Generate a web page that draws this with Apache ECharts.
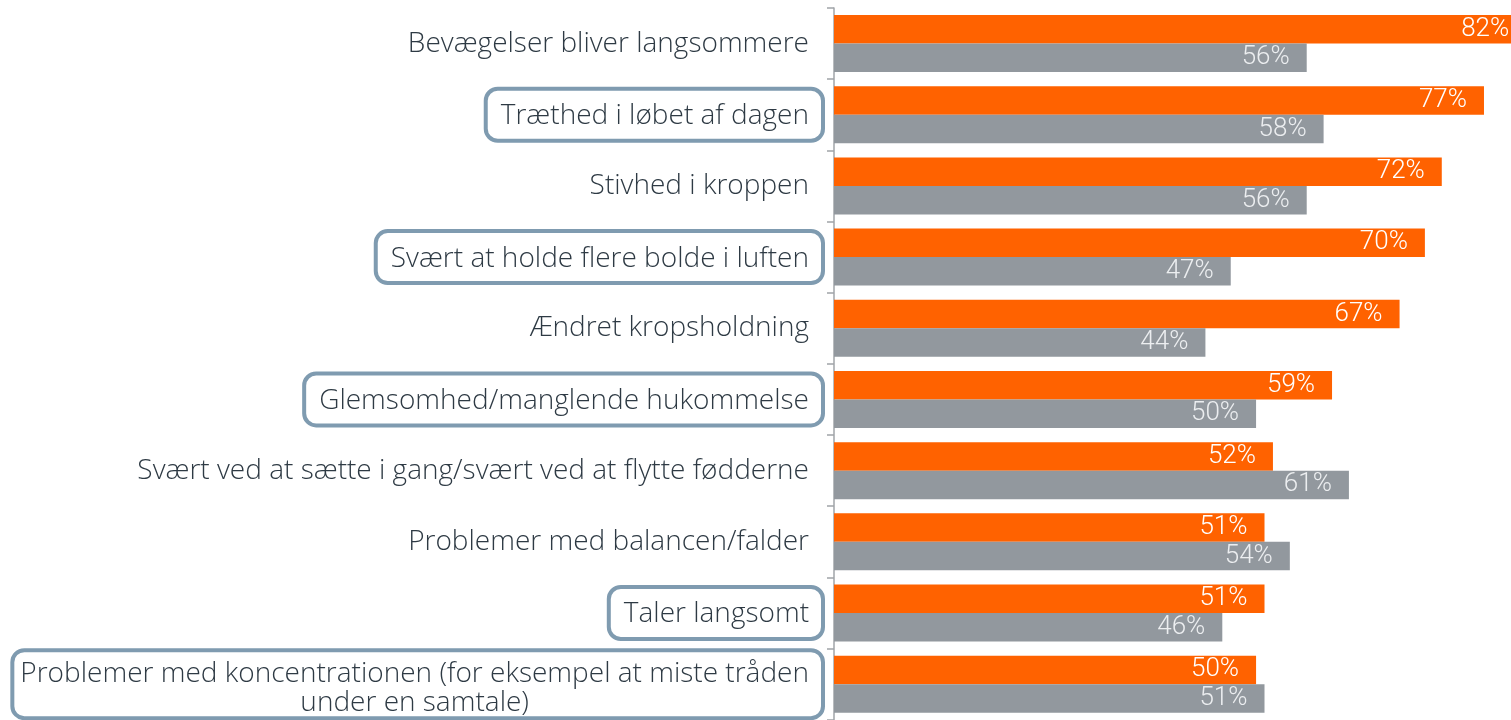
<!DOCTYPE html>
<html>
<head>
<meta charset="utf-8">
<script src="https://cdn.jsdelivr.net/npm/echarts@6/dist/echarts.min.js"></script>
<style>
  html, body { margin: 0; padding: 0; background: #fff; }
  #chart { width: 1511px; height: 720px; }
</style>
</head>
<body>
<div id="chart"></div>
<script>
// Symptoms, top to bottom
const categories = [
  'Bevægelser bliver langsommere',
  'Træthed i løbet af dagen',
  'Stivhed i kroppen',
  'Svært at holde flere bolde i luften',
  'Ændret kropsholdning',
  'Glemsomhed/manglende hukommelse',
  'Svært ved at sætte i gang/svært ved at flytte fødderne',
  'Problemer med balancen/falder',
  'Taler langsomt',
  'Problemer med koncentrationen (for eksempel at miste tråden\nunder en samtale)'
];
// Symptoms that are framed
const highlighted = [false, true, false, true, false, true, false, false, true, true];
// Percent values
const orangeValues = [82, 77, 72, 70, 67, 59, 52, 51, 51, 50];
const greyValues   = [56, 58, 56, 47, 44, 50, 61, 54, 46, 51];

const FONT = '"Open Sans", Roboto, sans-serif';
const VFONT = 'Roboto, sans-serif';
const BOX = '#7f9bb0';
const TXT = '#2e3a44';

const yData = categories.map((c, i) => {
  const multi = c.indexOf('\n') >= 0;
  const style = highlighted[i]
    ? { borderColor: BOX, borderWidth: 4, borderRadius: 12,
        padding: multi ? [9, 14, 1, 8] : [13, 14, 10, 15] }
    : { padding: [0, 14, 0, 0] };
  return { value: c, textStyle: style };
});

const chart = echarts.init(document.getElementById('chart'), null, { renderer: 'canvas' });
chart.setOption({
  animation: false,
  backgroundColor: '#fff',
  grid: { left: 834, top: 8, right: 0, height: 715 },
  xAxis: {
    // visible part of the scale: the longest bar runs past the right edge
    type: 'value', min: 0, max: 80.2,
    show: false, splitLine: { show: false }
  },
  yAxis: {
    type: 'category',
    inverse: true,
    data: yData,
    axisLine: { show: true, lineStyle: { color: '#a0a4a8', width: 1.5 } },
    axisTick: { show: true, length: 7, inside: false, lineStyle: { color: '#a0a4a8', width: 1.5 } },
    axisLabel: {
      margin: 11,
      fontFamily: FONT,
      fontWeight: 300,
      fontSize: 28,
      color: TXT,
      lineHeight: 29,
      formatter: v => v.indexOf('\n') >= 0
        ? v.split('\n').map(s => '{c|' + s + '}').join('\n')
        : v,
      rich: {
        c: { align: 'center', fontFamily: FONT, fontWeight: 300, fontSize: 28, color: TXT, lineHeight: 29 }
      }
    }
  },
  series: [
    {
      type: 'bar',
      data: orangeValues,
      barWidth: 28.5,
      barGap: '0%',
      clip: false,
      itemStyle: { color: '#ff6200' },
      label: {
        show: true, position: 'insideRight', distance: 17,
        formatter: '{c}%', color: '#ffffff',
        fontFamily: VFONT, fontWeight: 300, fontSize: 26
      }
    },
    {
      type: 'bar',
      data: greyValues,
      barWidth: 28.5,
      clip: false,
      itemStyle: { color: '#92989e' },
      label: {
        show: true, position: 'insideRight', distance: 17,
        formatter: '{c}%', color: '#eceef0',
        fontFamily: VFONT, fontWeight: 300, fontSize: 26
      }
    }
  ]
});
</script>
</body>
</html>
